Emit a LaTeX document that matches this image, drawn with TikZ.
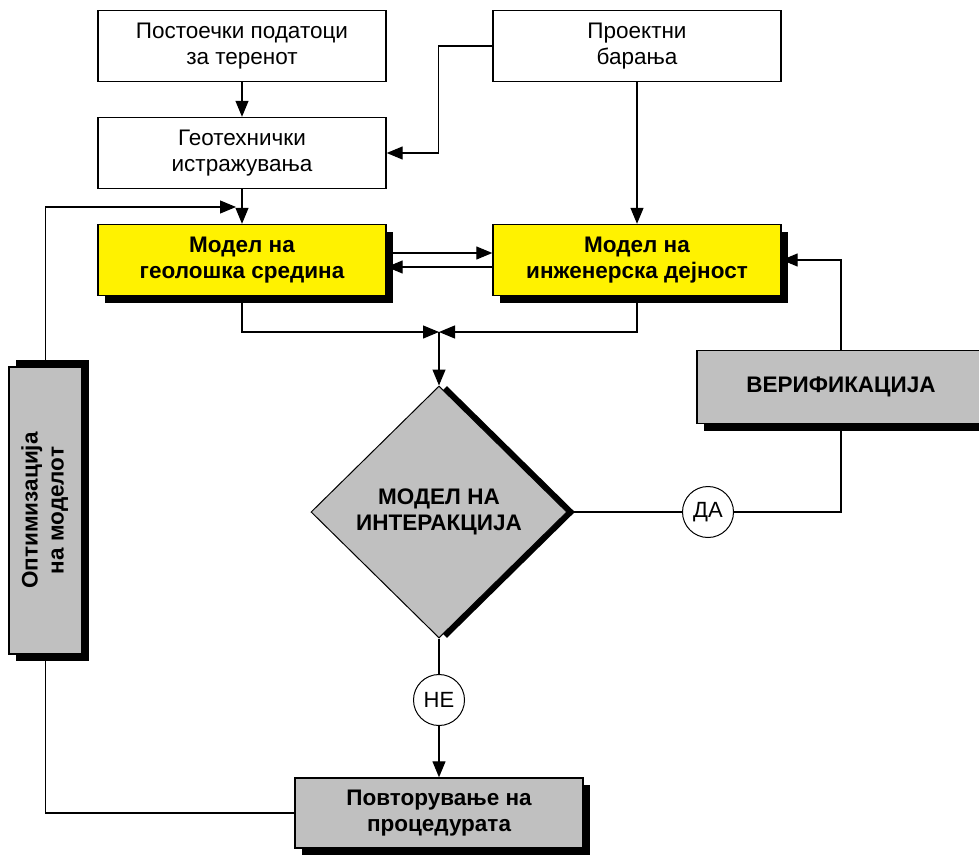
\documentclass[tikz,border=0pt]{standalone}
\usepackage{fontspec}
\setmainfont{Liberation Sans}
\usetikzlibrary{arrows.meta,shapes.geometric,shadows}

\definecolor{boxgrey}{RGB}{192,192,192}

\tikzset{
  infobox/.style={draw, line width=1.4pt, fill=white, minimum width=288pt, minimum height=71pt,
    align=center, inner sep=0pt, font=\fontsize{22.5}{26}\selectfont},
  modelbox/.style={infobox, fill=yellow, font=\fontsize{22.5}{26}\selectfont\bfseries,
    drop shadow={shadow xshift=7pt, shadow yshift=-7pt, opacity=1, fill=black}},
  greybox/.style={modelbox, fill=boxgrey},
  answer/.style={draw, circle, line width=1pt, fill=white, minimum size=51pt, inner sep=0pt,
    font=\fontsize{22}{24}\selectfont},
  arr/.style={line width=1.2pt, -{Triangle[length=16pt,width=13pt]}},
  link/.style={line width=1.2pt},
}

\begin{document}
\begin{tikzpicture}[x=1pt, y=-1pt]

%% Page frame
\useasboundingbox (0,0) rectangle (979,854);

%% Input boxes
\node[infobox] (data) at (242,46) {Постоечки податоци\\за теренот};
\node[infobox] (design) at (637,46) {Проектни\\барања};
\node[infobox] (geotech) at (242,153) {Геотехнички\\истражувања};

%% Models
\node[modelbox] (ground) at (242,260) {Модел на\\геолошка средина};
\node[modelbox] (works) at (637,260) {Модел на\\инженерска дејност};

%% Interaction
\node[diamond, draw, line width=1pt, fill=boxgrey, minimum width=256pt, minimum height=252pt,
  inner sep=0pt, font=\fontsize{22.5}{26}\selectfont\bfseries, align=center,
  drop shadow={shadow xshift=8pt, shadow yshift=0pt, opacity=1, fill=black}]
  (inter) at (439,512) {МОДЕЛ НА\\ИНТЕРАКЦИЈА};

\node[answer] (yes) at (708,512) {ДА};
\node[answer] (no) at (439,700) {НЕ};

\node[greybox, minimum height=73pt] (verif) at (841,387) {ВЕРИФИКАЦИЈА};
\node[greybox, minimum height=70pt] (repeat) at (439,813) {Повторување на\\процедурата};
\node[greybox, minimum width=73pt, minimum height=287pt,
  drop shadow={shadow xshift=7pt, shadow yshift=7pt, opacity=1, fill=black}]
  (optim) at (45.5,510.5) {\rotatebox{90}{\begin{tabular}{@{}c@{}}Оптимизација\\на моделот\end{tabular}}};

%% Joints
\coordinate (join) at (439,332);
\coordinate (optin) at (236,207);

%% Flow
\draw[arr] (data) -- (geotech);
\draw[arr] (design.west) -- ++(-54,0) |- (geotech.east);
\draw[arr] (design) -- (works);
\draw[arr] (geotech) -- (ground);
\draw[arr] ([yshift=7pt]ground.east) -- ([yshift=7pt]works.west);
\draw[arr] ([yshift=-7pt]works.west) -- ([yshift=-7pt]ground.east);
\draw[arr] (ground.south) |- (join);
\draw[arr] (works.south) |- (join);
\draw[arr] (join) -- (inter.north);

%% Answers
\draw[link] (inter.east) -- (yes);
\draw[link] (yes) -| (verif.south);
\draw[arr] (verif.north) |- (works.east);
\draw[link] (inter.south) -- (no);
\draw[arr] (no) -- (repeat);
\draw[link] (repeat.west) -| (optim.south);
\draw[arr] (optim.north) |- (optin);

\end{tikzpicture}
\end{document}
